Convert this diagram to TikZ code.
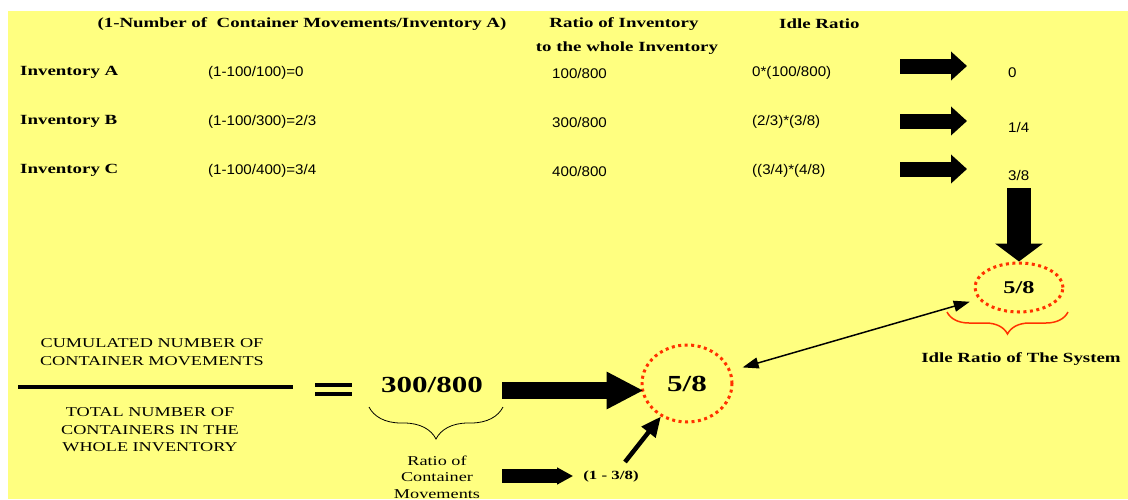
\documentclass[tikz,border=0pt]{standalone}
\usepackage{fontspec}
\setmainfont{Liberation Serif}
\newfontfamily\wideserif[FakeStretch=1.35]{Liberation Serif}
\newfontfamily\plainsans[FakeStretch=1.08]{Liberation Sans}
\usetikzlibrary{arrows.meta,shapes.geometric}
\usetikzlibrary{decorations.pathreplacing}
\definecolor{padyellow}{RGB}{255,255,128}
\definecolor{dotred}{RGB}{255,50,0}

\begin{document}
\begin{tikzpicture}[x=1pt,y=-1pt,
  hd/.style={font={\wideserif\bfseries\fontsize{14}{16}\selectfont},inner sep=0pt},
  big/.style={font={\wideserif\bfseries\fontsize{#1}{#1}\selectfont},inner sep=0pt},
  num/.style={font={\plainsans\fontsize{14}{16}\selectfont},inner sep=0pt,anchor=west},
  caps/.style={font={\wideserif\fontsize{13.5}{17.5}\selectfont},inner sep=0pt,align=center},
  fatarrow/.style={line width=15pt,-{Triangle[width=28pt,length=16pt]}},
  dotring/.style={ellipse,draw=dotred,line width=3pt,dash pattern=on 3pt off 3.5pt,inner sep=0pt}]
\useasboundingbox (0,0) rectangle (1128,499);
\fill[padyellow] (8,11) rectangle (1128,499);

% table head
\node[hd] (colform) at (302,24) {(1-Number of\ \ Container Movements/Inventory A)};
\node[hd] (colratio) at (624,24) {Ratio of Inventory};
\node[hd] (colratio2) at (627,48) {to the whole Inventory};
\node[hd,anchor=west] (colidle) at (779,24) {Idle Ratio};

\node[hd,anchor=west] (invA) at (20,72) {Inventory A};
\node[hd,anchor=west] (invB) at (20,121) {Inventory B};
\node[hd,anchor=west] (invC) at (20,170) {Inventory C};
\node[num] (formA) at (208,73) {(1-100/100)=0};
\node[num] (formB) at (208,122) {(1-100/300)=2/3};
\node[num] (formC) at (208,171) {(1-100/400)=3/4};
\node[num] (ratA) at (552,73) {100/800};
\node[num] (ratB) at (552,122) {300/800};
\node[num] (ratC) at (552,171) {400/800};
\node[num] (idleA) at (752,73) {0*(100/800)};
\node[num] (idleB) at (752,122) {(2/3)*(3/8)};
\node[num] (idleC) at (752,171) {((3/4)*(4/8)};
\node[num] (valA) at (1008,73) {0};
\node[num] (valB) at (1008,127) {1/4};
\node[num] (valC) at (1008,175) {3/8};

\coordinate (arA) at (900,66);  \coordinate (tipA) at (967,66);
\coordinate (arB) at (900,121); \coordinate (tipB) at (967,121);
\coordinate (arC) at (900,169); \coordinate (tipC) at (967,169);
\draw[fatarrow] (arA) -- (tipA);
\draw[fatarrow] (arB) -- (tipB);
\draw[fatarrow] (arC) -- (tipC);

% system ratio
\node[dotring,minimum width=88pt,minimum height=49pt,big=18] (sysc) at (1019,287.5) {5/8};
\coordinate (downS) at (1019,188);
\draw[line width=24pt,-{Triangle[width=47pt,length=18pt]}] (downS) -- (sysc.north);
\draw[dotred,line width=1.5pt,decorate,decoration={brace,amplitude=22pt}] (1068,312) -- (947,312);
\node[hd] (sysname) at (1021,359) {Idle Ratio of The System};

% lower formula
\node[caps] (cumtxt) at (152,352) {CUMULATED NUMBER OF\\CONTAINER MOVEMENTS};
\coordinate (barL) at (18,387); \coordinate (barR) at (293,387);
\draw[line width=4pt] (barL) -- (barR);
\node[caps] (totaltxt) at (150,430) {TOTAL NUMBER OF\\CONTAINERS IN THE\\WHOLE INVENTORY};
\draw[line width=4pt] (315,385) -- (352,385) (315,394) -- (352,394);
\node[big=23] (movnum) at (432,385) {300/800};
\draw[line width=0.8pt,decorate,decoration={brace,amplitude=32pt}] (503,407) -- (369,407);
\node[caps,font={\wideserif\fontsize{13.5}{16.5}\selectfont}] (movname) at (437,477) {Ratio of\\Container\\Movements};

\node[dotring,minimum width=90pt,minimum height=77pt,big=23] (movc) at (687,383.5) {5/8};
\coordinate (bigS) at (502,390.5);
\draw[line width=17pt,-{Triangle[width=35pt,length=37pt]},shorten >=-3pt] (bigS) -- (bigS -| movc.west);

\node[big=12.5] (restxt) at (611,476) {(1 - 3/8)};
\coordinate (smallS) at (502,476);
\draw[line width=14pt,-{Triangle[width=16pt,length=16pt]},shorten >=10pt] (smallS) -- (restxt.west);
\coordinate (resS) at (625,462);
\draw[line width=4.5pt,-{Triangle[width=17pt,length=20pt]}] (resS) -- (movc);

\draw[line width=1.5pt,{Triangle[width=11pt,length=16pt]}-{Triangle[width=11pt,length=16pt]},shorten <=12pt,shorten >=9pt] (movc) -- (sysc);
\end{tikzpicture}
\end{document}
